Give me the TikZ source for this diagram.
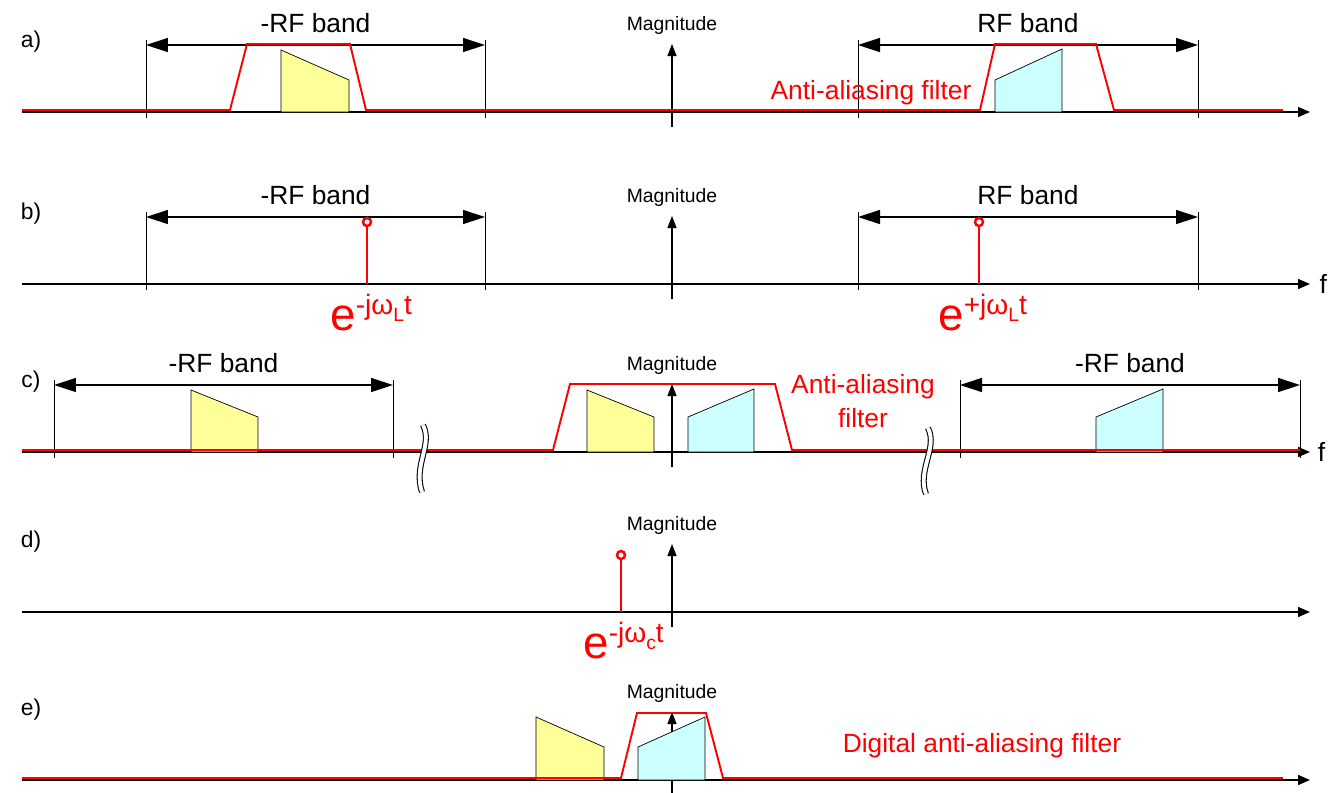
\documentclass[tikz,border=0pt]{standalone}
\usepackage{fontspec}
\setmainfont{Liberation Sans}
\usetikzlibrary{arrows.meta,positioning}
\definecolor{filt}{HTML}{FF0000}
\definecolor{lowband}{HTML}{FFFF99}
\definecolor{upband}{HTML}{CCFFFF}
\tikzset{
  faxis/.style={-{Triangle[length=2.4mm,width=2mm]}, line width=0.8pt},
  maxis/.style={-{Triangle[length=2.4mm,width=1.8mm]}, line width=0.7pt},
  guide/.style={line width=0.4pt},
  band/.style={{Triangle[length=4.4mm,width=2.8mm]}-{Triangle[length=4.4mm,width=2.8mm]}, line width=0.8pt},
  filter/.style={draw=filt, line width=1.1pt},
  spec/.style={draw=black, line width=0.4pt},
  lbl/.style={font=\fontsize{15}{18}\selectfont},
  panel/.style={font=\fontsize{13}{15}\selectfont},
  maglbl/.style={font=\fontsize{11}{13}\selectfont},
  rlbl/.style={font=\fontsize{15}{19}\selectfont, text=filt, align=center},
  tone/.style={draw=filt, line width=1.4pt},
  tonehead/.style={tone, circle, fill=white, inner sep=0pt, minimum size=0.16cm},
  brk/.style={double, double distance=2.2pt, line width=0.6pt}
}
\newcommand{\cexp}[2]{{\fontsize{26}{26}\selectfont e}\raisebox{9pt}{\fontsize{16}{16}\selectfont #1ω\raisebox{-4pt}{\fontsize{11}{11}\selectfont #2}t}}

\begin{document}
\begin{tikzpicture}[x=0.02cm, y=-0.02cm]
\useasboundingbox (0,0) rectangle (1330,792);
% frequency axes, magnitude axes, panel letters
\foreach \yy/\nm in {112/a,284/b,452/c,612/d,780/e}{
  \node[panel] (lab\nm) at (31,\yy-70) {\nm)};
  \coordinate (o\nm) at (22,\yy);
  \coordinate (f\nm) at (1310,\yy);
  \draw[faxis] (o\nm) -- (f\nm);
  \draw[maxis] (672,\yy+15) -- (672,\yy-68) node[maglbl, above=2pt] (mag\nm) {Magnitude};
}
\node[lbl, right=2pt of fb] (fxb) {f};
\node[lbl, right=1pt of fc] (fxc) {f};
% RF band markers
\foreach \xl/\xr/\yy/\txt/\nm in {146/485/112/-RF band/al, 858/1198/112/RF band/ar,
    146/485/284/-RF band/bl, 858/1198/284/RF band/br,
    54/393/452/-RF band/cl, 960/1300/452/-RF band/cr}{
  \draw[guide] (\xl,\yy-72) -- (\xl,\yy+6);
  \draw[guide] (\xr,\yy-72) -- (\xr,\yy+6);
  \draw[band] (\xl,\yy-67) -- (\xr,\yy-67) node[lbl, midway, above=3pt] (\nm) {\txt};
}
% spectra
\filldraw[spec, fill=lowband] (281,112) -- (281,50) -- (349,80) -- (349,112) -- cycle;
\filldraw[spec, fill=upband] (995,112) -- (995,80) -- (1062,49) -- (1062,112) -- cycle;
\filldraw[spec, fill=lowband] (191,452) -- (191,390) -- (258,417) -- (258,452) -- cycle;
\filldraw[spec, fill=lowband] (587,452) -- (587,390) -- (654,417) -- (654,452) -- cycle;
\filldraw[spec, fill=upband] (688,452) -- (688,417) -- (754,389) -- (754,452) -- cycle;
\filldraw[spec, fill=upband] (1096,452) -- (1096,417) -- (1163,389) -- (1163,452) -- cycle;
\filldraw[spec, fill=lowband] (536,780) -- (536,717) -- (604,747) -- (604,780) -- cycle;
\filldraw[spec, fill=upband] (638,780) -- (638,747) -- (705,717) -- (705,780) -- cycle;
% filters
\draw[filter] (22,110) -- (230,110) -- (247,44) -- (350,44) -- (366,110) -- (980,110)
  -- (995,44) -- (1096,44) -- (1114,110) -- (1283,110);
\draw[filter] (22,450) -- (553,450) -- (570,384) -- (775,384) -- (792,450) -- (1300,450);
\draw[filter] (22,778) -- (621,778) -- (637,713) -- (706,713) -- (723,778) -- (1283,778);
\node[rlbl] (aaf) at (871,93) {Anti-aliasing filter};
\node[rlbl] (aafc) at (863,401) {Anti-aliasing\\filter};
\node[rlbl] (daaf) at (982,746) {Digital anti-aliasing filter};
% axis breaks
\draw[brk] (423,425) .. controls (433,445) and (413,465) .. (422,492);
\draw[brk] (928,428) .. controls (938,448) and (917,470) .. (926,494);
% oscillator tones
\coordinate (bl0) at (367,284);
\coordinate (br0) at (979,284);
\coordinate (d0) at (621,612);
\node[tonehead] (toneL) at (367,222) {};
\node[tonehead] (toneR) at (979,222) {};
\node[tonehead] (toneC) at (621,555) {};
\draw[tone] (bl0) -- (toneL);
\draw[tone] (br0) -- (toneR);
\draw[tone] (d0) -- (toneC);
\node[text=filt, anchor=base west, inner sep=0pt] (expL) at (330,330) {\cexp{-j}{L}};
\node[text=filt, anchor=base west, inner sep=0pt] (expR) at (938,330) {\cexp{+j}{L}};
\node[text=filt, anchor=base west, inner sep=0pt] (expC) at (583,658) {\cexp{-j}{c}};
\end{tikzpicture}
\end{document}
